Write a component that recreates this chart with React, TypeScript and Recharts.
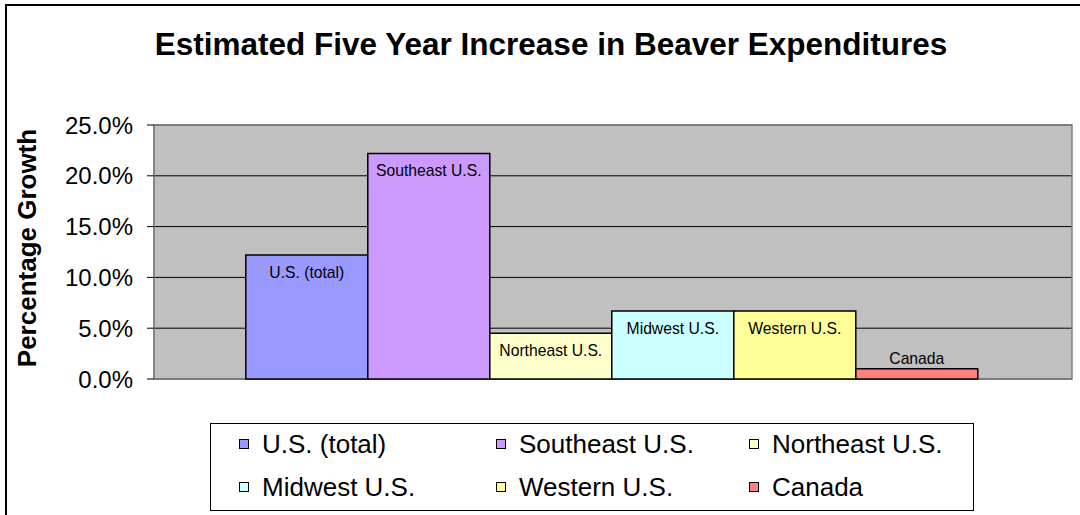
import React from "react";
import {
  BarChart,
  Bar,
  XAxis,
  YAxis,
  CartesianGrid,
  ReferenceArea,
  LabelList,
} from "recharts";

// series (growth as a fraction)
const seriesNames = [
  "U.S. (total)",
  "Southeast U.S.",
  "Northeast U.S.",
  "Midwest U.S.",
  "Western U.S.",
  "Canada",
];
const seriesValues = [0.122, 0.222, 0.045, 0.067, 0.067, 0.01];
const seriesColors = ["#9999FF", "#CC99FF", "#FFFFCC", "#CCFFFF", "#FFFF99", "#FF8080"];
const yTicks = [0, 0.05, 0.1, 0.15, 0.2, 0.25];

const FONT = "Arial, 'Liberation Sans', sans-serif";

const row: Record<string, string | number> = { name: "Growth" };
seriesNames.forEach((_, i) => {
  row[`s${i}`] = seriesValues[i];
});
const data = [row];

function makeBarLabel(text: string) {
  return (props: any) => {
    const x = Number(props.x);
    const y = Number(props.y);
    const w = Number(props.width);
    const h = Number(props.height);
    const ty = h > 20 ? y + 23 : y - 5;
    return (
      <text x={x + w / 2} y={ty} textAnchor="middle" fontSize={15.7} fontFamily={FONT} fill="#000">
        {text}
      </text>
    );
  };
}

const renderYLabel = (props: any) => {
  const vb = props.viewBox || { x: 0, y: 125, width: 154, height: 254 };
  const x = vb.x + 36;
  const y = vb.y + vb.height / 2 - 4;
  return (
    <text
      x={x}
      y={y}
      transform={`rotate(-90, ${x}, ${y})`}
      textAnchor="middle"
      fontSize={26}
      fontWeight="bold"
      fontFamily={FONT}
      fill="#000"
    >
      Percentage Growth
    </text>
  );
};

export default function App() {
  return (
    <div
      style={{
        position: "absolute",
        left: 0,
        top: 0,
        width: 1080,
        height: 515,
        overflow: "hidden",
        background: "#fff",
        fontFamily: FONT,
      }}
    >
      <div
        style={{
          position: "absolute",
          left: 5,
          top: 4,
          width: 1090,
          height: 540,
          border: "2px solid #000",
        }}
      />
      <div
        style={{
          position: "absolute",
          left: 0,
          top: 28,
          width: 1102,
          textAlign: "center",
          fontSize: 31.5,
          lineHeight: "32px",
          fontWeight: "bold",
          color: "#000",
          whiteSpace: "nowrap",
        }}
      >
        Estimated Five Year Increase in Beaver Expenditures
      </div>
      <div style={{ position: "absolute", left: 0, top: 0 }}>
        <BarChart
          width={1080}
          height={515}
          data={data}
          margin={{ top: 125, right: 8, bottom: 136, left: 0 }}
          barCategoryGap="10%"
          barGap={0}
        >
          <CartesianGrid vertical={false} stroke="#000" strokeWidth={1} fill="#C0C0C0" fillOpacity={1} />
          <XAxis dataKey="name" hide />
          <YAxis
            width={154}
            domain={[0, 0.25]}
            ticks={yTicks}
            interval={0}
            tickFormatter={(v: number) => `${(v * 100).toFixed(1)}%`}
            tick={{ fontSize: 24, fill: "#000", fontFamily: FONT }}
            tickSize={7}
            tickMargin={14}
            tickLine={{ stroke: "#000" }}
            axisLine={{ stroke: "#808080", strokeWidth: 1.5 }}
            label={{ content: renderYLabel }}
          />
          <ReferenceArea y1={0} y2={0.25} fill="none" stroke="#808080" strokeWidth={1.5} />
          {seriesNames.map((n, i) => (
            <Bar
              key={n}
              dataKey={`s${i}`}
              name={n}
              fill={seriesColors[i]}
              stroke="#000"
              strokeWidth={1.5}
              isAnimationActive={false}
            >
              <LabelList dataKey={`s${i}`} content={makeBarLabel(n)} />
            </Bar>
          ))}
        </BarChart>
      </div>
      <div
        style={{
          position: "absolute",
          left: 210,
          top: 423,
          width: 764,
          height: 88,
          boxSizing: "border-box",
          border: "1.5px solid #000",
          background: "#fff",
          paddingLeft: 28,
          display: "grid",
          gridTemplateColumns: "257px 253px 1fr",
          gridTemplateRows: "40px 46px",
        }}
      >
        {seriesNames.map((n, i) => (
          <div key={n} style={{ display: "flex", alignItems: "center", whiteSpace: "nowrap" }}>
            <span
              style={{
                display: "inline-block",
                width: 8,
                height: 8,
                border: "1px solid #000",
                background: seriesColors[i],
                marginRight: 13,
              }}
            />
            <span style={{ fontSize: 26, lineHeight: 1, color: "#000" }}>{n}</span>
          </div>
        ))}
      </div>
    </div>
  );
}
